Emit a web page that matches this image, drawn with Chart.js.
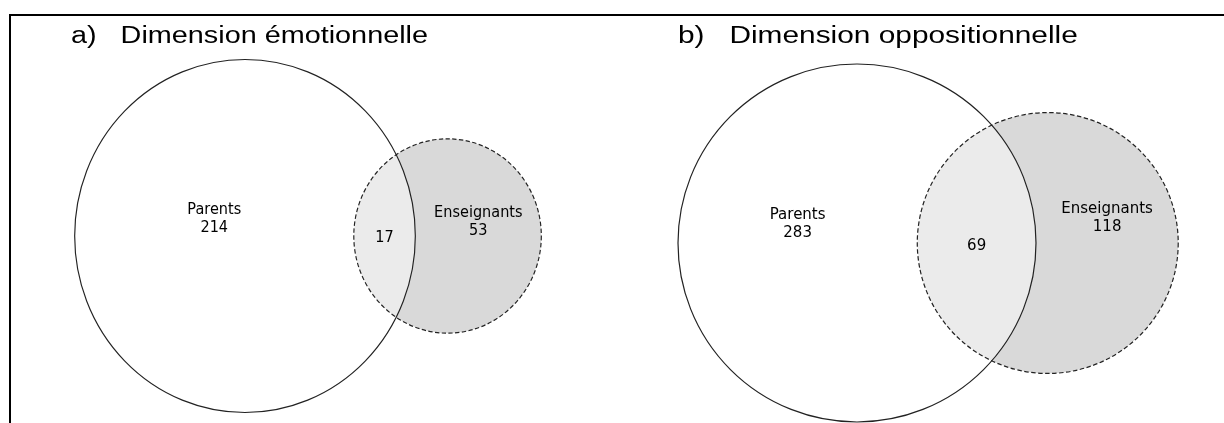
<!DOCTYPE html>
<html lang="fr">
<head>
<meta charset="utf-8">
<title>Parents / Enseignants</title>
<script src="https://cdn.jsdelivr.net/npm/chart.js@4.4.1/dist/chart.umd.min.js"></script>
<style>
  html, body { margin: 0; padding: 0; background: #fff; }
  #figure { position: relative; width: 1224px; height: 423px; overflow: hidden; }
  #figure canvas { position: absolute; top: 0; }
  #cadre { position: absolute; left: 9px; top: 14px; right: -5px; bottom: -5px;
           border-top: 2px solid #000; border-left: 2px solid #000; }
</style>
</head>
<body>
<div id="figure">
  <canvas id="chartA" width="612" height="423" style="left:0"></canvas>
  <canvas id="chartB" width="612" height="423" style="left:612px"></canvas>
  <div id="cadre"></div>
</div>
<script>
// Données
const titres = ["a)   Dimension émotionnelle", "b)   Dimension oppositionnelle"];
const ensembles = ["Parents", "Enseignants"];
const parentsSeuls = [214, 283];
const communs = [17, 69];
const enseignantsSeuls = [53, 118];

// Mise en page de chaque panneau (pixels à l'écran).
// Le panneau a) est légèrement tassé en largeur dans l'original.
const panneaux = [
  { canvas: "chartA", cx: 245, cy: 236, rayon: 176.5, tasse: 0.965, titreX: 71, dy: [-22, 6, -19] },
  { canvas: "chartB", cx: 245, cy: 243, rayon: 179, tasse: 1, titreX: 66, dy: [-24, 7, -30] }
];

// Aire de l'intersection de deux cercles
function aireLentille(r1, r2, d) {
  if (d >= r1 + r2) return 0;
  if (d <= Math.abs(r1 - r2)) return Math.PI * Math.min(r1, r2) ** 2;
  const a1 = Math.acos((d * d + r1 * r1 - r2 * r2) / (2 * d * r1));
  const a2 = Math.acos((d * d + r2 * r2 - r1 * r1) / (2 * d * r2));
  const k = Math.sqrt((-d + r1 + r2) * (d + r1 - r2) * (d - r1 + r2) * (d + r1 + r2));
  return r1 * r1 * a1 + r2 * r2 * a2 - k / 2;
}

// Distance entre centres pour obtenir l'aire commune voulue
function distancePour(r1, r2, cible) {
  let lo = Math.abs(r1 - r2), hi = r1 + r2;
  for (let i = 0; i < 60; i++) {
    const mid = (lo + hi) / 2;
    if (aireLentille(r1, r2, mid) > cible) lo = mid; else hi = mid;
  }
  return (lo + hi) / 2;
}

function rayonPixels(chart, r) {
  const x = chart.scales.x;
  return Math.abs(x.getPixelForValue(r) - x.getPixelForValue(0));
}

// Bordure en pointillés pour les jeux qui le demandent
const pointilles = {
  id: 'pointilles',
  beforeDatasetDraw(chart, args) {
    const ds = chart.data.datasets[args.index];
    if (ds.pointilles) chart.ctx.setLineDash(ds.pointilles);
  },
  afterDatasetDraw(chart) {
    chart.ctx.setLineDash([]);
  }
};

function creerDiagramme(i) {
  const p = panneaux[i];
  const W = 612, H = 423;
  const rP = Math.sqrt((parentsSeuls[i] + communs[i]) / Math.PI);
  const rE = Math.sqrt((enseignantsSeuls[i] + communs[i]) / Math.PI);
  const d = distancePour(rP, rE, communs[i]);
  const s = p.rayon / rP; // pixels par unité
  const cx = p.cx / p.tasse; // centre dans le repère du canevas avant tassement

  // étiquettes au milieu de chaque zone, sur l'axe des centres
  const zones = [
    { x: (-rP + d - rE) / 2, lignes: [ensembles[0], String(parentsSeuls[i])] },
    { x: (d - rE + rP) / 2, lignes: [String(communs[i])] },
    { x: (rP + d + rE) / 2, lignes: [ensembles[1], String(enseignantsSeuls[i])] }
  ];

  const etiquettes = {
    id: 'etiquettes',
    afterDatasetsDraw(chart) {
      const ctx = chart.ctx;
      const sx = chart.scales.x, sy = chart.scales.y;
      const yc = sy.getPixelForValue(0);
      ctx.save();
      ctx.font = '15px "DejaVu Sans"';
      ctx.fillStyle = '#000';
      ctx.textAlign = 'center';
      ctx.textBaseline = 'alphabetic';
      zones.forEach((z, k) => {
        const px = sx.getPixelForValue(z.x);
        z.lignes.forEach((t, j) => ctx.fillText(t, px, yc + p.dy[k] + j * 18));
      });
      ctx.restore();
    }
  };

  const titre = {
    id: 'titre',
    afterDraw(chart) {
      const ctx = chart.ctx;
      ctx.save();
      ctx.font = '23.5px "Liberation Sans", Arial, sans-serif';
      ctx.fillStyle = '#000';
      ctx.textBaseline = 'alphabetic';
      ctx.translate(p.titreX / p.tasse, 43);
      ctx.scale(1.27, 1);
      ctx.fillText(titres[i], 0, 0);
      ctx.restore();
    }
  };

  // tassement horizontal de tout le panneau (placé en dernier)
  const tassement = {
    id: 'tassement',
    beforeDraw(chart) {
      chart.ctx.save();
      chart.ctx.scale(p.tasse, 1);
    },
    afterDraw(chart) {
      chart.ctx.restore();
    }
  };

  return new Chart(document.getElementById(p.canvas), {
    type: 'scatter',
    data: {
      datasets: [
        {
          label: ensembles[1],
          data: [{ x: d, y: 0 }],
          order: 3,
          clip: false,
          pointBackgroundColor: '#d9d9d9',
          pointBorderWidth: 0,
          pointRadius: c => rayonPixels(c.chart, rE)
        },
        {
          label: ensembles[0],
          data: [{ x: 0, y: 0 }],
          order: 2,
          clip: false,
          pointBackgroundColor: 'rgba(255,255,255,0.47)',
          pointBorderColor: '#222',
          pointBorderWidth: 1.2,
          pointRadius: c => rayonPixels(c.chart, rP)
        },
        {
          label: ensembles[1] + ' (contour)',
          data: [{ x: d, y: 0 }],
          order: 1,
          clip: false,
          pointilles: [4.5, 2.5],
          pointBackgroundColor: 'rgba(0,0,0,0)',
          pointBorderColor: '#222',
          pointBorderWidth: 1.2,
          pointRadius: c => rayonPixels(c.chart, rE)
        }
      ]
    },
    options: {
      responsive: false,
      animation: false,
      events: [],
      layout: { padding: 0 },
      scales: {
        x: { type: 'linear', display: false, min: -cx / s, max: (W - cx) / s },
        y: { type: 'linear', display: false, min: -(H - p.cy) / s, max: p.cy / s }
      },
      plugins: {
        legend: { display: false },
        tooltip: { enabled: false },
        title: { display: false }
      }
    },
    plugins: [pointilles, etiquettes, titre, tassement]
  });
}

creerDiagramme(0);
creerDiagramme(1);
</script>
</body>
</html>
